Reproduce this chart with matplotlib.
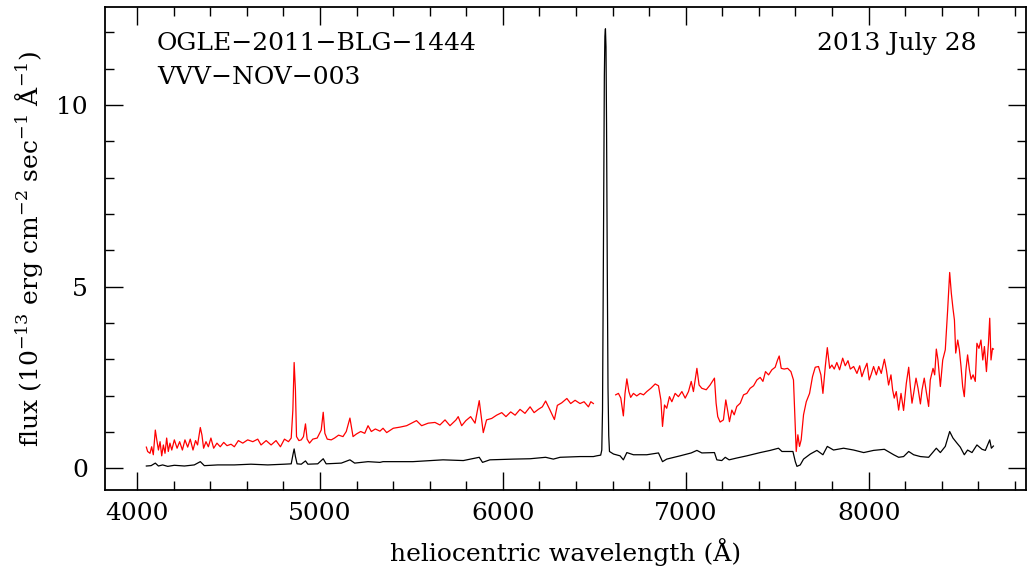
import matplotlib
matplotlib.use("Agg")
import matplotlib.pyplot as plt
from matplotlib.ticker import MultipleLocator

plt.rcParams['font.family'] = ['DejaVu Serif']
plt.rcParams['mathtext.fontset'] = 'dejavuserif'

# Red spectrum (scaled), blue segment
red1_wl = [4051, 4058, 4071, 4080, 4089, 4100, 4108, 4117, 4126, 4135, 4144, 4153, 4162, 4171, 4180,
           4190, 4204, 4219, 4233, 4248, 4262, 4277, 4291, 4306, 4320, 4331, 4346, 4355, 4364, 4377,
           4390, 4404, 4419, 4437, 4455, 4474, 4492, 4514, 4532, 4554, 4578, 4605, 4633, 4660, 4678,
           4706, 4733, 4760, 4784, 4806, 4828, 4843, 4852, 4859, 4866, 4872, 4885, 4898, 4910, 4921,
           4930, 4943, 4961, 4985, 5007, 5018, 5027, 5040, 5062, 5080, 5102, 5126, 5144, 5164, 5181,
           5199, 5223, 5245, 5263, 5281, 5303, 5328, 5345, 5365, 5401, 5437, 5474, 5501, 5528, 5556,
           5592, 5629, 5656, 5684, 5711, 5744, 5756, 5775, 5798, 5824, 5848, 5871, 5882, 5893, 5911,
           5939, 5966, 5994, 6017, 6043, 6067, 6094, 6121, 6149, 6171, 6194, 6216, 6234, 6258, 6282,
           6298, 6322, 6350, 6371, 6395, 6422, 6444, 6468, 6481, 6495]
red1_fx = [0.58, 0.46, 0.41, 0.59, 0.37, 1.05, 0.78, 0.50, 0.73, 0.34, 0.64, 0.41, 0.83, 0.46, 0.69,
           0.50, 0.78, 0.55, 0.73, 0.50, 0.78, 0.58, 0.80, 0.50, 0.76, 0.64, 1.12, 0.91, 0.55, 0.73,
           0.59, 0.83, 0.55, 0.69, 0.59, 0.71, 0.62, 0.66, 0.59, 0.76, 0.69, 0.78, 0.73, 0.80, 0.64,
           0.76, 0.64, 0.76, 0.59, 0.80, 0.73, 0.83, 1.60, 2.91, 2.16, 0.87, 0.76, 0.78, 0.87, 1.22,
           0.80, 0.69, 0.80, 0.83, 1.05, 1.54, 0.96, 0.80, 0.78, 0.83, 0.91, 0.87, 1.01, 1.38, 0.87,
           0.94, 1.01, 0.96, 1.17, 1.01, 1.08, 1.02, 1.10, 0.98, 1.10, 1.13, 1.17, 1.24, 1.31, 1.17,
           1.24, 1.26, 1.19, 1.33, 1.17, 1.33, 1.42, 1.17, 1.31, 1.42, 1.24, 1.86, 1.42, 0.98, 1.33,
           1.37, 1.46, 1.53, 1.42, 1.55, 1.46, 1.62, 1.51, 1.69, 1.53, 1.62, 1.69, 1.85, 1.60, 1.34,
           1.73, 1.80, 1.92, 1.78, 1.87, 1.78, 1.83, 1.69, 1.83, 1.78]

# Red spectrum (scaled), red segment
red2_wl = [6617, 6632, 6645, 6659, 6668, 6678, 6689, 6699, 6714, 6732, 6751, 6769, 6787, 6809, 6833,
           6851, 6864, 6873, 6884, 6896, 6911, 6924, 6942, 6960, 6979, 6997, 7015, 7030, 7042, 7061,
           7073, 7088, 7112, 7133, 7157, 7166, 7175, 7188, 7206, 7219, 7230, 7239, 7252, 7265, 7279,
           7298, 7316, 7334, 7352, 7371, 7389, 7407, 7422, 7436, 7453, 7471, 7489, 7502, 7511, 7522,
           7538, 7557, 7575, 7589, 7599, 7604, 7613, 7622, 7631, 7644, 7659, 7677, 7693, 7708, 7726,
           7739, 7750, 7763, 7774, 7787, 7799, 7812, 7826, 7841, 7858, 7872, 7887, 7900, 7918, 7936,
           7951, 7963, 7976, 7991, 8003, 8013, 8027, 8042, 8055, 8069, 8086, 8097, 8109, 8122, 8131,
           8140, 8151, 8164, 8177, 8191, 8206, 8219, 8228, 8237, 8246, 8259, 8270, 8283, 8292, 8304,
           8315, 8328, 8337, 8352, 8361, 8370, 8379, 8392, 8405, 8419, 8432, 8443, 8452, 8461, 8469,
           8476, 8487, 8496, 8505, 8514, 8523, 8532, 8541, 8551, 8560, 8571, 8583, 8592, 8603, 8614,
           8624, 8633, 8644, 8655, 8662, 8669, 8677, 8682]
red2_fx = [2.02, 2.06, 1.93, 1.44, 2.06, 2.46, 2.11, 1.95, 2.06, 1.99, 2.06, 2.02, 2.11, 2.20, 2.32,
           2.27, 1.88, 1.15, 1.74, 1.65, 1.97, 1.83, 2.06, 1.97, 2.11, 1.93, 2.11, 2.39, 2.11, 2.75,
           2.29, 2.20, 2.16, 2.29, 2.48, 1.79, 1.42, 1.27, 1.33, 1.88, 1.56, 1.28, 1.60, 1.47, 1.70,
           1.79, 2.02, 2.06, 2.20, 2.27, 2.43, 2.50, 2.39, 2.66, 2.57, 2.71, 2.78, 2.98, 3.09, 2.75,
           2.73, 2.75, 2.66, 2.43, 1.15, 0.46, 0.92, 0.60, 0.78, 1.47, 1.83, 2.06, 2.52, 2.78, 2.80,
           2.57, 2.06, 2.80, 3.32, 2.75, 2.84, 2.73, 2.91, 2.71, 3.03, 2.82, 2.96, 2.73, 2.80, 2.61,
           2.82, 2.52, 2.71, 2.89, 2.43, 2.57, 2.80, 2.57, 2.80, 2.61, 3.00, 2.71, 2.29, 2.57, 2.16,
           1.93, 2.11, 1.60, 2.06, 1.59, 2.34, 2.78, 2.25, 1.79, 2.06, 2.48, 2.20, 1.77, 2.16, 2.48,
           2.11, 1.70, 2.43, 2.75, 2.57, 3.28, 2.98, 2.25, 2.98, 3.26, 4.36, 5.39, 4.82, 4.40, 4.08,
           3.17, 3.53, 3.26, 2.80, 2.25, 1.97, 2.71, 3.12, 2.71, 2.45, 2.57, 2.39, 3.44, 3.30, 3.53,
           2.98, 3.35, 2.66, 3.44, 4.13, 2.98, 3.30, 3.28]

# Black spectrum (observed flux)
blk_wl = [4051, 4077, 4100, 4117, 4140, 4168, 4204, 4259, 4313, 4346, 4368, 4441, 4532, 4623, 4715,
          4806, 4843, 4854, 4859, 4866, 4875, 4898, 4921, 4934, 4988, 5018, 5034, 5117, 5164, 5190,
          5263, 5328, 5345, 5508, 5673, 5784, 5871, 5889, 5929, 6057, 6149, 6234, 6276, 6313, 6422,
          6495, 6513, 6535, 6541, 6545, 6550, 6555, 6558, 6561, 6564, 6567, 6571, 6575, 6579, 6583,
          6605, 6641, 6659, 6678, 6714, 6787, 6851, 6873, 6896, 6969, 7030, 7061, 7088, 7157, 7170,
          7197, 7216, 7237, 7279, 7334, 7407, 7462, 7507, 7526, 7586, 7599, 7608, 7626, 7644, 7681,
          7717, 7750, 7774, 7808, 7863, 7918, 7973, 8027, 8086, 8137, 8164, 8191, 8219, 8246, 8283,
          8328, 8370, 8392, 8419, 8443, 8461, 8483, 8501, 8523, 8541, 8565, 8592, 8620, 8638, 8662,
          8671, 8682]
blk_fx = [0.06, 0.07, 0.14, 0.06, 0.09, 0.05, 0.08, 0.06, 0.09, 0.18, 0.07, 0.09, 0.09, 0.11, 0.09,
          0.11, 0.12, 0.41, 0.53, 0.32, 0.12, 0.11, 0.20, 0.11, 0.12, 0.26, 0.12, 0.14, 0.23, 0.14,
          0.18, 0.16, 0.18, 0.18, 0.23, 0.21, 0.30, 0.16, 0.23, 0.25, 0.26, 0.30, 0.25, 0.30, 0.32,
          0.32, 0.34, 0.36, 0.50, 1.6, 6.0, 10.8, 11.9, 12.1, 11.6, 9.5, 5.5, 2.2, 0.9, 0.46,
          0.39, 0.34, 0.23, 0.43, 0.37, 0.37, 0.42, 0.18, 0.25, 0.34, 0.42, 0.49, 0.42, 0.43, 0.23,
          0.21, 0.30, 0.23, 0.28, 0.34, 0.43, 0.49, 0.55, 0.46, 0.46, 0.18, 0.05, 0.09, 0.25, 0.39,
          0.49, 0.37, 0.60, 0.50, 0.55, 0.50, 0.43, 0.49, 0.52, 0.37, 0.30, 0.32, 0.46, 0.37, 0.32,
          0.30, 0.55, 0.43, 0.60, 1.01, 0.83, 0.69, 0.58, 0.37, 0.50, 0.43, 0.64, 0.52, 0.49, 0.78,
          0.55, 0.61]

x_ticks = [4000, 5000, 6000, 7000, 8000]
y_ticks = [0, 5, 10]

fig = plt.figure(figsize=(10.28, 5.71), dpi=100)
ax = fig.add_axes([0.1018, 0.1419, 0.8962, 0.8458])

ax.plot(red1_wl, red1_fx, color='#ff0000', lw=0.9)
ax.plot(red2_wl, red2_fx, color='#ff0000', lw=0.9)
ax.plot(blk_wl, blk_fx, color='black', lw=0.9)

ax.set_xlim(3823, 8860)
ax.set_ylim(-0.6, 12.7)
ax.set_xticks(x_ticks)
ax.set_yticks(y_ticks)
ax.xaxis.set_minor_locator(MultipleLocator(200))
ax.yaxis.set_minor_locator(MultipleLocator(1))
ax.tick_params(which='both', direction='in', top=True, right=True, width=1.0, colors='black')
ax.tick_params(which='major', length=13)
ax.tick_params(which='minor', length=6.5)
ax.tick_params(axis='x', which='major', labelsize=18, pad=9)
ax.tick_params(axis='y', which='major', labelsize=18, pad=12)
for s in ax.spines.values():
    s.set_linewidth(1.3)

ax.set_xlabel('heliocentric wavelength (Å)', fontsize=18, labelpad=9)
ax.set_ylabel(r'flux (10$^{-13}$ erg cm$^{-2}$ sec$^{-1}$ Å$^{-1}$)', fontsize=18, labelpad=8)

ax.text(0.0568, 0.925, 'OGLE\u22122011\u2212BLG\u22121444', transform=ax.transAxes,
        fontsize=18, ha='left', va='center')
ax.text(0.0568, 0.855, 'VVV\u2212NOV\u2212003', transform=ax.transAxes,
        fontsize=18, ha='left', va='center')
ax.text(0.9468, 0.925, '2013 July 28', transform=ax.transAxes,
        fontsize=18, ha='right', va='center')

fig.savefig('out.png', dpi=100)
